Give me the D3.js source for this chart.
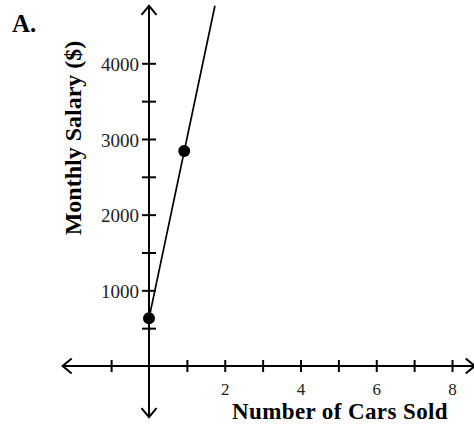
<!DOCTYPE html>
<html>
<head>
<meta charset="utf-8">
<script src="https://cdn.jsdelivr.net/npm/d3@7"></script>
<style>
  body { margin: 0; background: #fff; }
  svg { display: block; }
</style>
</head>
<body>
<div class="chart"></div>
<script>
// data
var carsSold = [0, 0.93];
var salary = [630, 2840];
// end points of the drawn line
var lineCars = [0, 1.74];
var lineSalary = [630, 4760];

var xTicks = [-1, 1, 2, 3, 4, 5, 6, 7, 8];
var xLabels = [2, 4, 6, 8];
var yTicks = [500, 1000, 1500, 2000, 2500, 3000, 3500, 4000];
var yLabels = [1000, 2000, 3000, 4000];

var svgWidth = 474;
var svgHeight = 424;

var svg = d3.select(".chart")
  .append("svg")
  .attr("width", svgWidth)
  .attr("height", svgHeight);

var serif = "'Liberation Serif', 'Times New Roman', serif";

// scales
var x = d3.scaleLinear().domain([0, 8]).range([149, 452]);
var y = d3.scaleLinear().domain([0, 4000]).range([366, 63.3]);

var x0 = x(0), y0 = y(0);

// axis lines with open arrow heads
var axes = svg.append("g")
  .attr("stroke", "#000")
  .attr("stroke-width", 2)
  .attr("fill", "none");

var xLeft = x(-2.28), xRight = x(8.6);
var yTop = y(4760), yBottom = y(-675);

axes.append("line").attr("x1", xLeft).attr("x2", xRight - 1).attr("y1", y0).attr("y2", y0);
axes.append("line").attr("x1", x0).attr("x2", x0).attr("y1", yTop).attr("y2", yBottom);

axes.append("path").attr("d", `M${xLeft + 9},${y0 - 7.5}L${xLeft},${y0}L${xLeft + 9},${y0 + 7.5}`);
axes.append("path").attr("d", `M${xRight - 9},${y0 - 7.5}L${xRight},${y0}L${xRight - 9},${y0 + 7.5}`);
axes.append("path").attr("d", `M${x0 - 7.5},${yTop + 9}L${x0},${yTop}L${x0 + 7.5},${yTop + 9}`);
axes.append("path").attr("d", `M${x0 - 7.5},${yBottom - 9}L${x0},${yBottom}L${x0 + 7.5},${yBottom - 9}`);

// ticks crossing the axes
var bottomAxis = d3.axisBottom(x)
  .tickValues(xTicks)
  .tickSize(6)
  .tickFormat(d => xLabels.indexOf(d) >= 0 ? d : "");

var xAxis = svg.append("g")
  .attr("transform", `translate(0, ${y0})`)
  .call(bottomAxis);
xAxis.select(".domain").remove();
xAxis.selectAll("line").attr("y1", -6).attr("y2", 6).attr("stroke", "#000").attr("stroke-width", 2);
xAxis.selectAll("text")
  .attr("y", 29)
  .attr("dy", 0)
  .attr("fill", "#222")
  .style("font-family", serif)
  .style("font-size", "17px");

var leftAxis = d3.axisLeft(y)
  .tickValues(yTicks)
  .tickSize(7)
  .tickFormat(d => yLabels.indexOf(d) >= 0 ? d : "");

var yAxis = svg.append("g")
  .attr("transform", `translate(${x0}, 0)`)
  .call(leftAxis);
yAxis.select(".domain").remove();
yAxis.selectAll("line").attr("x1", -7).attr("x2", 7).attr("stroke", "#000").attr("stroke-width", 2);
yAxis.selectAll("text")
  .attr("x", -10)
  .attr("dy", "0.38em")
  .attr("fill", "#222")
  .style("font-family", serif)
  .style("font-size", "19px");

// the salary line
var line = d3.line()
  .x(d => x(d[0]))
  .y(d => y(d[1]));

svg.append("path")
  .datum(d3.zip(lineCars, lineSalary))
  .attr("d", line)
  .attr("fill", "none")
  .attr("stroke", "#000")
  .attr("stroke-width", 1.7);

// points
svg.selectAll("circle")
  .data(d3.zip(carsSold, salary))
  .enter()
  .append("circle")
  .attr("cx", d => x(d[0]))
  .attr("cy", d => y(d[1]))
  .attr("r", 6)
  .attr("fill", "#000");

// titles
svg.append("text")
  .attr("x", 340)
  .attr("y", 419)
  .attr("text-anchor", "middle")
  .style("font-family", serif)
  .style("font-size", "23px")
  .style("font-weight", "bold")
  .style("letter-spacing", "0.4px")
  .text("Number of Cars Sold");

svg.append("text")
  .attr("transform", "translate(81, 138) rotate(-90)")
  .attr("text-anchor", "middle")
  .style("font-family", serif)
  .style("font-size", "24px")
  .style("font-weight", "bold")
  .text("Monthly Salary ($)");

svg.append("text")
  .attr("x", 12)
  .attr("y", 32)
  .style("font-family", serif)
  .style("font-size", "25px")
  .style("font-weight", "bold")
  .text("A.");
</script>
</body>
</html>
